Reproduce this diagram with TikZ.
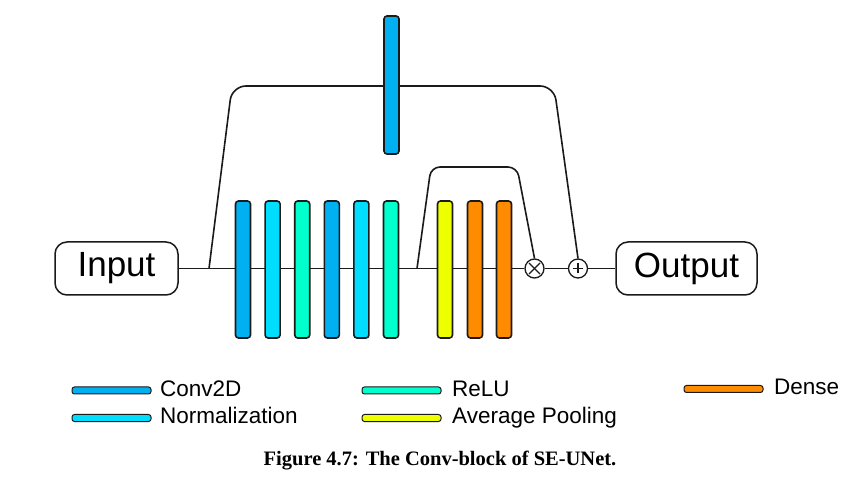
\documentclass[tikz,border=0pt]{standalone}
\usepackage{fontspec}
\setmainfont{Liberation Sans}
\newfontfamily\capfont{Liberation Serif}
\definecolor{cconv}{HTML}{00B0F0}
\definecolor{cnorm}{HTML}{00DDFF}
\definecolor{crelu}{HTML}{00FFCC}
\definecolor{cpool}{HTML}{EEFF00}
\definecolor{cdense}{HTML}{FF8C00}
\definecolor{edge}{HTML}{1A1A1A}
\begin{document}
\begin{tikzpicture}[x=1pt,y=-1pt,
  bar/.style={draw=edge,line width=1.6pt,rounded corners=3pt,minimum width=15pt,minimum height=137pt,inner sep=0pt},
  tbar/.style={bar,minimum height=138pt},
  iobox/.style={draw=edge,line width=1.5pt,rounded corners=12pt,minimum height=53pt,inner sep=0pt,font=\fontsize{35}{40}\selectfont},
  op/.style={draw=edge,line width=1.3pt,circle,minimum size=19pt,inner sep=0pt},
  wire/.style={draw=edge,line width=1.6pt},
  swatch/.style={draw=edge,line width=1pt,rounded corners=2.5pt,minimum width=79pt,minimum height=7pt,inner sep=0pt},
  legtext/.style={anchor=base west,inner sep=0pt,font=\fontsize{22.5}{26}\selectfont},
]
\useasboundingbox (0,0) rectangle (868,494);
\fill[white] (0,0) rectangle (868,494);
% input / output
\node[iobox,minimum width=123pt] (in) at (116.5,268.5) {Input};
\node[iobox,minimum width=141pt] (out) at (686.5,268.5) {Output};
% operators
\node[op] (mul) at (534.5,268.5) {};
\node[op] (add) at (578,268.5) {};
\draw[edge,line width=1.2pt] ([shift={(-5.5,-5.5)}]mul.center) -- ([shift={(5.5,5.5)}]mul.center);
\draw[edge,line width=1.2pt] ([shift={(-5.5,5.5)}]mul.center) -- ([shift={(5.5,-5.5)}]mul.center);
\draw[edge,line width=1.7pt] ([xshift=-5pt]add.center) -- ([xshift=5pt]add.center);
\draw[edge,line width=1.7pt] ([yshift=-5pt]add.center) -- ([yshift=5pt]add.center);
% skip coordinates
\coordinate (s1) at (209,268.5);
\coordinate (s2) at (417,268.5);
% main wire
\path[wire] (in.east) -- (mul.west);
\path[wire] (mul.east) -- (add.west);
\path[wire] (add.east) -- (out.west);
% skip connections
\path[wire,rounded corners=14pt] (s1) -- (232,86) -- (554,86) -- (add.north);
\path[wire,rounded corners=9pt] (s2) -- (431,167) -- (517,167) -- (mul.north);
% bars
\node[bar,fill=cconv] (b1) at (243,269.5) {};
\node[bar,fill=cnorm] (b2) at (272.6,269.5) {};
\node[bar,fill=crelu] (b3) at (302.2,269.5) {};
\node[bar,fill=cconv] (b4) at (331.8,269.5) {};
\node[bar,fill=cnorm] (b5) at (361.4,269.5) {};
\node[bar,fill=crelu] (b6) at (391,269.5) {};
\node[tbar,fill=cconv] (bt) at (391.5,85) {};
\node[bar,fill=cpool] (p1) at (445,269.5) {};
\node[bar,fill=cdense] (d1) at (475,269.5) {};
\node[bar,fill=cdense] (d2) at (504,269.5) {};
% legend
\node[swatch,fill=cconv] (l1) at (111.5,390.5) {};
\node[legtext] (t1) at (160,396) {Conv2D};
\node[swatch,fill=cnorm] (l2) at (111.5,418) {};
\node[legtext] (t2) at (160,423.5) {Normalization};
\node[swatch,fill=crelu] (l3) at (401.5,390.5) {};
\node[legtext] (t3) at (452,396) {ReLU};
\node[swatch,fill=cpool] (l4) at (401.5,418) {};
\node[legtext] (t4) at (452,423.5) {Average Pooling};
\node[swatch,fill=cdense] (l5) at (723.5,389) {};
\node[legtext] (t5) at (774,394.5) {Dense};
% caption
\node[anchor=base,inner sep=0pt,font=\capfont\bfseries\fontsize{20.5}{23}\selectfont] (cap) at (440,465) {Figure 4.7: The Conv-block of SE-UNet.};
\end{tikzpicture}
\end{document}
